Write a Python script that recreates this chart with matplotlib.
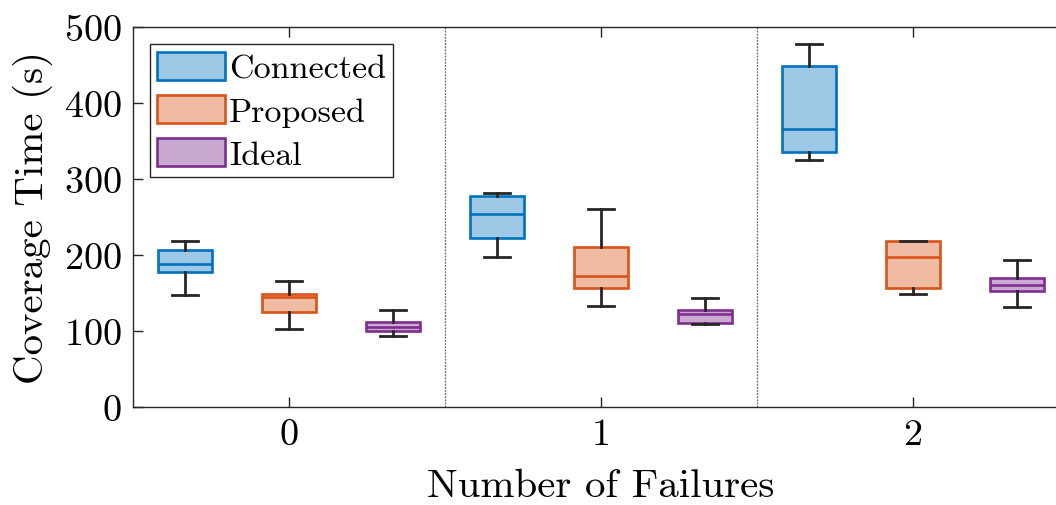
import matplotlib
matplotlib.use("Agg")
import matplotlib.pyplot as plt
from matplotlib.patches import Patch

plt.rcParams['font.family'] = 'serif'
plt.rcParams['font.serif'] = ['cmr10', 'DejaVu Serif']
plt.rcParams['mathtext.fontset'] = 'cm'
plt.rcParams['axes.unicode_minus'] = False
plt.rcParams['axes.formatter.use_mathtext'] = True

# Data: failures 0, 1, 2
failures = [0, 1, 2]
methods = ["Connected", "Proposed", "Ideal"]

# whisker low, q1, median, q3, whisker high
connected_stats = [
	[147, 177, 188, 206, 218],
	[198, 222, 254, 277, 281],
	[325, 335, 366, 449, 477],
]
proposed_stats = [
	[103, 125, 145, 149, 166],
	[133, 156, 173, 211, 261],
	[149, 156, 198, 218, 218],
]
ideal_stats = [
	[94, 100, 105, 112, 127],
	[109, 111, 122, 127, 144],
	[131, 152, 161, 170, 193],
]

edge_colors = ["#0072BD", "#D95319", "#7E2F8E"]
face_colors = ["#9DC8E6", "#F0BBA3", "#C9A8D2"]

fig = plt.figure(figsize=(10.56, 5.06), dpi=100)
ax = fig.add_axes([133 / 1056, 98 / 506, 936 / 1056, 380 / 506])

offsets = [-1 / 3, 0, 1 / 3]
all_stats = [connected_stats, proposed_stats, ideal_stats]
for k, stats in enumerate(all_stats):
	boxes = []
	for s in stats:
		boxes.append(dict(whislo=s[0], q1=s[1], med=s[2], q3=s[3], whishi=s[4], fliers=[]))
	pos = [f + offsets[k] for f in failures]
	ax.bxp(boxes, positions=pos, widths=0.17, patch_artist=True, showfliers=False,
		boxprops=dict(facecolor=face_colors[k], edgecolor=edge_colors[k], linewidth=1.9),
		medianprops=dict(color=edge_colors[k], linewidth=1.9),
		whiskerprops=dict(color="#262626", linewidth=2.0),
		capprops=dict(color="#262626", linewidth=2.0),
		capwidths=0.085, zorder=3)

for xv in [0.5, 1.5]:
	ax.axvline(xv, color="#666666", linestyle=(0, (1.5, 1)), linewidth=0.9, zorder=1)

ax.set_xlim(-0.5, 2.5)
ax.set_ylim(0, 500)
ax.set_xticks(failures)
ax.set_xticklabels([str(f) for f in failures])
ax.set_yticks([0, 100, 200, 300, 400, 500])
ax.tick_params(axis="both", direction="in", length=7, width=1.0, color="#262626",
	labelsize=27.5, top=True, right=True, pad=8)
for sp in ax.spines.values():
	sp.set_color("#262626")
	sp.set_linewidth(1.0)

ax.set_xlabel("Number of Failures", fontsize=29.5, labelpad=12)
ax.set_ylabel("Coverage Time (s)", fontsize=29.5, labelpad=8)

handles = [Patch(facecolor=face_colors[i], edgecolor=edge_colors[i], linewidth=1.9, label=methods[i])
	for i in range(3)]
leg = ax.legend(handles=handles, loc="upper left", bbox_to_anchor=(0.018, 0.955),
	fontsize=24.5, fancybox=False, framealpha=1, edgecolor="#262626",
	handlelength=2.0, handleheight=0.9, handletextpad=0.1, labelspacing=0.33,
	borderpad=0.22, borderaxespad=0)
leg.get_frame().set_linewidth(1.0)

plt.savefig("out.png", dpi=100)
